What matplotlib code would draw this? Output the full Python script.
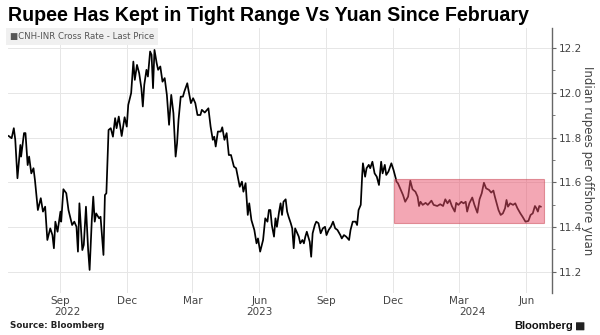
import matplotlib
matplotlib.use("Agg")
import matplotlib.pyplot as plt
import matplotlib.dates as mdates
import matplotlib.transforms as mtransforms
from matplotlib.patches import Rectangle, FancyBboxPatch
import pandas as pd

# CNH-INR cross rate
dates = [
    "2022-06-22", "2022-06-26", "2022-06-29", "2022-07-01", "2022-07-04", "2022-07-08", "2022-07-09",
    "2022-07-13", "2022-07-15", "2022-07-18", "2022-07-20", "2022-07-23", "2022-07-26", "2022-07-28",
    "2022-08-01", "2022-08-05", "2022-08-08", "2022-08-11", "2022-08-14", "2022-08-18", "2022-08-21",
    "2022-08-23", "2022-08-25", "2022-08-28", "2022-09-01", "2022-09-02", "2022-09-05", "2022-09-09",
    "2022-09-12", "2022-09-17", "2022-09-20", "2022-09-23", "2022-09-25", "2022-09-27", "2022-10-01",
    "2022-10-03", "2022-10-06", "2022-10-09", "2022-10-11", "2022-10-14", "2022-10-16", "2022-10-18",
    "2022-10-20", "2022-10-24", "2022-10-26", "2022-10-30", "2022-11-01", "2022-11-03", "2022-11-06",
    "2022-11-09", "2022-11-12", "2022-11-15", "2022-11-17", "2022-11-20", "2022-11-24", "2022-11-28",
    "2022-12-01", "2022-12-03", "2022-12-07", "2022-12-10", "2022-12-12", "2022-12-15", "2022-12-18",
    "2022-12-21", "2022-12-23", "2022-12-25", "2022-12-28", "2022-12-30", "2023-01-02", "2023-01-04",
    "2023-01-06", "2023-01-08", "2023-01-11", "2023-01-13", "2023-01-16", "2023-01-19", "2023-01-22",
    "2023-01-25", "2023-01-28", "2023-01-29", "2023-01-31", "2023-02-03", "2023-02-06", "2023-02-08",
    "2023-02-10", "2023-02-13", "2023-02-16", "2023-02-18", "2023-02-22", "2023-02-24", "2023-02-27",
    "2023-03-02", "2023-03-05", "2023-03-08", "2023-03-12", "2023-03-14", "2023-03-18", "2023-03-23",
    "2023-03-26", "2023-03-29", "2023-03-31", "2023-04-02", "2023-04-05", "2023-04-09", "2023-04-11",
    "2023-04-14", "2023-04-17", "2023-04-20", "2023-04-23", "2023-04-27", "2023-04-30", "2023-05-05",
    "2023-05-08", "2023-05-10", "2023-05-13", "2023-05-16", "2023-05-18", "2023-05-21", "2023-05-25",
    "2023-05-28", "2023-05-30", "2023-06-02", "2023-06-06", "2023-06-09", "2023-06-12", "2023-06-14",
    "2023-06-16", "2023-06-18", "2023-06-21", "2023-06-23", "2023-06-25", "2023-06-28", "2023-06-30",
    "2023-07-02", "2023-07-04", "2023-07-07", "2023-07-09", "2023-07-11", "2023-07-14", "2023-07-16",
    "2023-07-18", "2023-07-20", "2023-07-23", "2023-07-25", "2023-07-27", "2023-07-30", "2023-08-01",
    "2023-08-03", "2023-08-05", "2023-08-09", "2023-08-11", "2023-08-13", "2023-08-16", "2023-08-18",
    "2023-08-21", "2023-08-24", "2023-08-27", "2023-08-30", "2023-09-01", "2023-09-04", "2023-09-07",
    "2023-09-10", "2023-09-13", "2023-09-16", "2023-09-20", "2023-09-22", "2023-09-25", "2023-09-28",
    "2023-10-02", "2023-10-04", "2023-10-07", "2023-10-11", "2023-10-13", "2023-10-15", "2023-10-18",
    "2023-10-20", "2023-10-21", "2023-10-24", "2023-10-26", "2023-10-29", "2023-10-31", "2023-11-03",
    "2023-11-06", "2023-11-09", "2023-11-12", "2023-11-15", "2023-11-17", "2023-11-20", "2023-11-22",
    "2023-11-25", "2023-11-29", "2023-12-02", "2023-12-05", "2023-12-06", "2023-12-08", "2023-12-12",
    "2023-12-15", "2023-12-18", "2023-12-22", "2023-12-25", "2023-12-28", "2024-01-01", "2024-01-04",
    "2024-01-06", "2024-01-08", "2024-01-11", "2024-01-15", "2024-01-18", "2024-01-23", "2024-01-26",
    "2024-01-31", "2024-02-04", "2024-02-08", "2024-02-11", "2024-02-14", "2024-02-17", "2024-02-20",
    "2024-02-24", "2024-02-26", "2024-02-29", "2024-03-04", "2024-03-07", "2024-03-10", "2024-03-12",
    "2024-03-15", "2024-03-19", "2024-03-22", "2024-03-26", "2024-03-29", "2024-04-01", "2024-04-04",
    "2024-04-07", "2024-04-11", "2024-04-14", "2024-04-17", "2024-04-19", "2024-04-22", "2024-04-24",
    "2024-04-27", "2024-04-30", "2024-05-03", "2024-05-05", "2024-05-07", "2024-05-10", "2024-05-14",
    "2024-05-17", "2024-05-20", "2024-05-24", "2024-05-27", "2024-05-31", "2024-06-04", "2024-06-07",
    "2024-06-10", "2024-06-13", "2024-06-15", "2024-06-17", "2024-06-19", "2024-06-21",
]
rate = [
    11.807, 11.797, 11.842, 11.790, 11.618, 11.767, 11.715,
    11.820, 11.820, 11.677, 11.715, 11.640, 11.663, 11.610,
    11.476, 11.529, 11.469, 11.491, 11.342, 11.394, 11.364,
    11.305, 11.424, 11.379, 11.469, 11.424, 11.569, 11.551,
    11.476, 11.409, 11.424, 11.401, 11.290, 11.506, 11.297,
    11.320, 11.491, 11.297, 11.208, 11.431, 11.536, 11.424,
    11.461, 11.439, 11.446, 11.275, 11.543, 11.551, 11.834,
    11.842, 11.804, 11.887, 11.842, 11.894, 11.807, 11.891,
    11.849, 11.946, 11.999, 12.140, 12.058, 12.125, 12.088,
    12.021, 11.939, 12.036, 12.103, 12.073, 12.185, 12.170,
    12.021, 12.192, 12.133, 12.103, 12.118, 12.050, 12.066,
    11.991, 11.857, 11.901, 11.991, 11.909, 11.715, 11.775,
    11.879, 11.983, 11.983, 12.006, 12.043, 12.006, 11.954,
    11.976, 11.954, 11.901, 11.901, 11.924, 11.912, 11.931,
    11.849, 11.790, 11.804, 11.760, 11.827, 11.827, 11.846,
    11.790, 11.820, 11.722, 11.722, 11.670, 11.663, 11.580,
    11.603, 11.558, 11.596, 11.454, 11.506, 11.431, 11.387,
    11.327, 11.349, 11.290, 11.342, 11.439, 11.424, 11.476,
    11.476, 11.409, 11.357, 11.439, 11.401, 11.469, 11.506,
    11.454, 11.513, 11.524, 11.469, 11.446, 11.417, 11.394,
    11.305, 11.394, 11.372, 11.357, 11.327, 11.342, 11.327,
    11.357, 11.379, 11.334, 11.267, 11.372, 11.409, 11.424,
    11.417, 11.372, 11.394, 11.401, 11.364, 11.387, 11.401,
    11.424, 11.394, 11.387, 11.364, 11.349, 11.364, 11.357,
    11.342, 11.387, 11.424, 11.424, 11.409, 11.476, 11.499,
    11.633, 11.685, 11.625, 11.663, 11.678, 11.663, 11.692,
    11.640, 11.625, 11.588, 11.692, 11.640, 11.678, 11.633,
    11.648, 11.685, 11.655, 11.618, 11.603, 11.596, 11.566,
    11.543, 11.513, 11.536, 11.607, 11.569, 11.558, 11.536,
    11.494, 11.513, 11.499, 11.508, 11.499, 11.518, 11.499,
    11.494, 11.502, 11.494, 11.524, 11.506, 11.521, 11.494,
    11.469, 11.508, 11.499, 11.513, 11.506, 11.513, 11.469,
    11.506, 11.532, 11.499, 11.464, 11.524, 11.551, 11.598,
    11.573, 11.566, 11.554, 11.563, 11.536, 11.499, 11.476,
    11.454, 11.461, 11.484, 11.521, 11.491, 11.506, 11.499,
    11.506, 11.484, 11.461, 11.446, 11.424, 11.427, 11.454,
    11.461, 11.494, 11.484, 11.469, 11.494, 11.491,
]

# highlighted range since December
band_dates = ["2023-12-02", "2024-06-26"]
band_values = [11.418, 11.615]

year_labels = ["2022", "2023", "2024"]
year_pos = ["2022-09-11", "2023-06-01", "2024-03-19"]

x = pd.to_datetime(dates)

fig = plt.figure(figsize=(6, 3.35), dpi=100)
ax = fig.add_axes([0.0133, 0.1254, 0.9062, 0.791])

ax.plot(x, rate, color="black", lw=1.25, zorder=3)

b0, b1 = pd.to_datetime(band_dates)
x0 = mdates.date2num(b0)
x1 = mdates.date2num(b1)
rect = Rectangle((x0, band_values[0]), x1 - x0, band_values[1] - band_values[0],
                 facecolor="#e9506a", alpha=0.5, edgecolor="#c8404f", lw=0.8, zorder=4)
ax.add_patch(rect)

ax.set_xlim(pd.Timestamp("2022-06-21"), pd.Timestamp("2024-07-06"))
ax.set_ylim(11.105, 12.29)

ax.xaxis.set_major_locator(mdates.MonthLocator(bymonth=[3, 6, 9, 12]))
ax.xaxis.set_major_formatter(mdates.DateFormatter("%b"))
ax.yaxis.set_major_locator(plt.MultipleLocator(0.2))
ax.yaxis.set_minor_locator(plt.MultipleLocator(0.1))
ax.yaxis.set_major_formatter(plt.FormatStrFormatter("%.1f"))
ax.yaxis.tick_right()
ax.yaxis.set_label_position("right")

for s in ["left", "top", "bottom"]:
    ax.spines[s].set_visible(False)
ax.spines["right"].set_color("#666666")
ax.spines["right"].set_linewidth(1.0)

ax.tick_params(axis="x", length=0, labelsize=7.5, labelcolor="#444444", pad=2)
ax.tick_params(axis="y", which="major", length=3, color="#666666", labelsize=7.5,
               labelcolor="#444444", pad=2)
ax.tick_params(axis="y", which="minor", length=2, color="#666666")

ax.grid(True, which="major", color="#e6e6e6", lw=0.7, zorder=0)
ax.set_axisbelow(True)

ax.set_ylabel("Indian rupees per offshore yuan", rotation=-90, fontsize=8.5,
              color="#444444", labelpad=9)

trans = mtransforms.blended_transform_factory(ax.transData, ax.transAxes)
for lab, pos in zip(year_labels, year_pos):
    ax.text(pd.Timestamp(pos), -0.07, lab, transform=trans, ha="center", va="center",
            fontsize=7.5, color="#444444")

# legend tag
ax.text(0.004, 0.985, "\u25a0CNH-INR Cross Rate - Last Price", transform=ax.transAxes,
        ha="left", va="top", fontsize=6.2, color="#555555", zorder=5,
        bbox=dict(boxstyle="square,pad=0.45", fc="#f0f0f0", ec="none"))

fig.text(0.013, 0.953, "Rupee Has Kept in Tight Range Vs Yuan Since February",
         fontsize=14.1, fontweight="bold", family="Liberation Sans", color="black",
         ha="left", va="center")
fig.text(0.017, 0.027, "Source: Bloomberg", fontsize=6.3, fontweight="bold",
         color="#222222", ha="left", va="center")
fig.text(0.955, 0.027, "Bloomberg", fontsize=8, fontweight="bold",
         family="Liberation Sans", color="#111111", ha="right", va="center")
fig.patches.append(FancyBboxPatch((0.961, 0.015), 0.012, 0.022, transform=fig.transFigure,
                                  boxstyle="round,pad=0.001", fc="#222222", ec="none"))

fig.savefig("out.png", dpi=100)
